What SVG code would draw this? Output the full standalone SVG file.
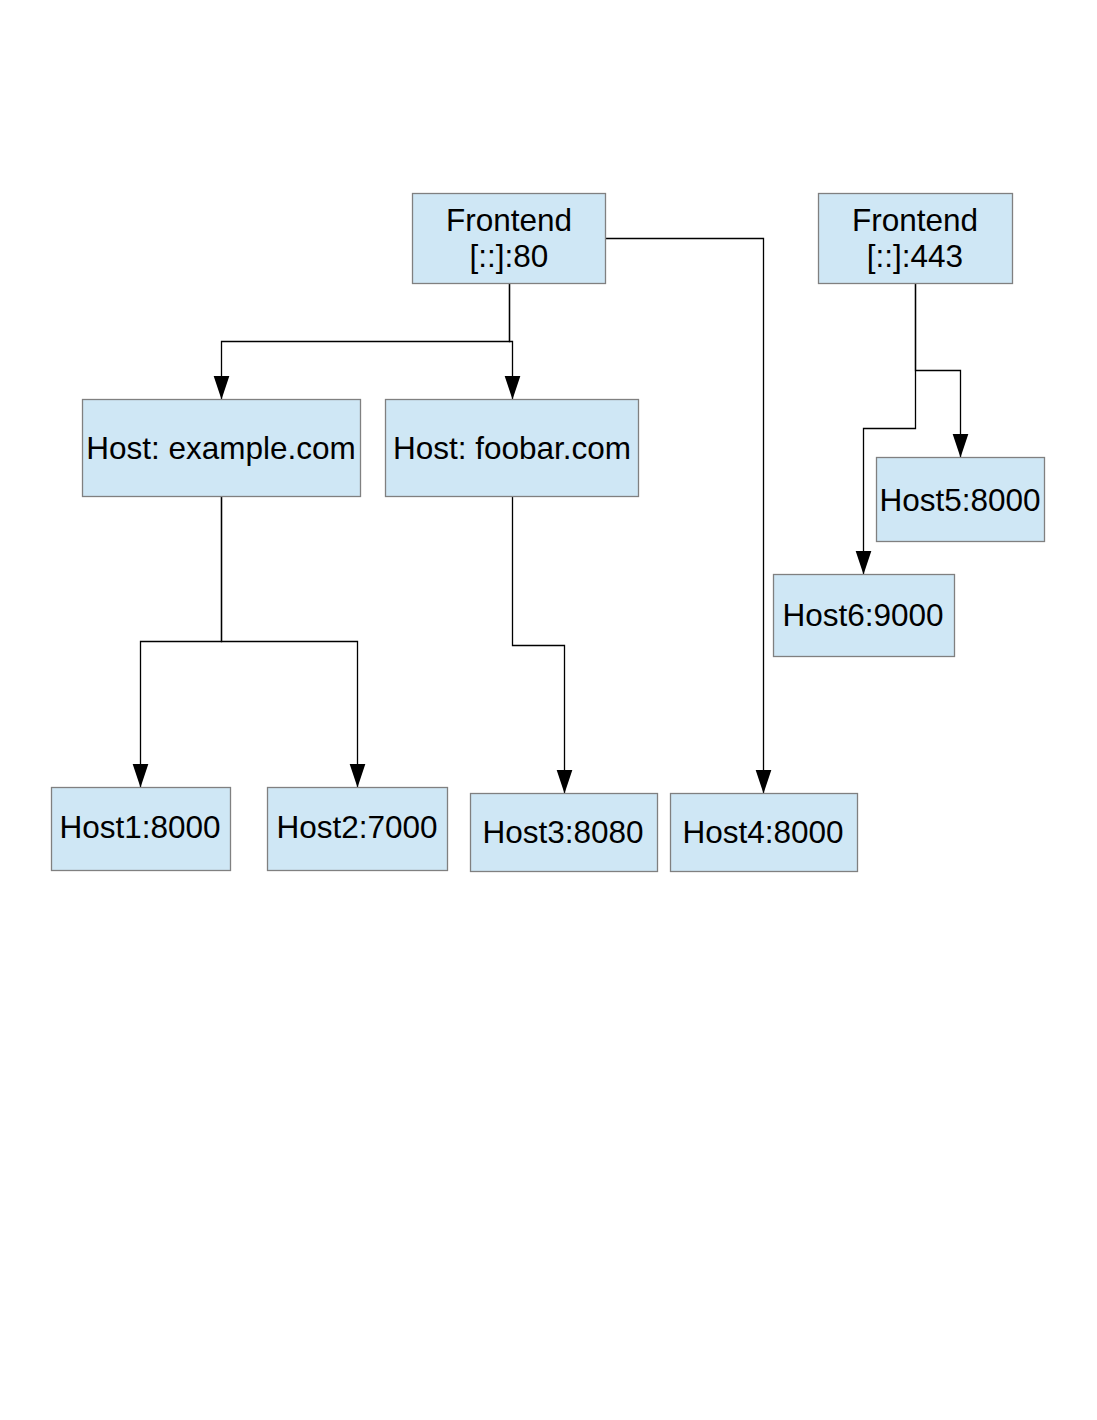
<svg xmlns="http://www.w3.org/2000/svg" width="1097" height="1420" viewBox="0 0 1097 1420">
<style>
.box{fill:#cfe7f5;stroke:#808080;stroke-width:1.3}
.t{font-family:"Liberation Sans",Arial,sans-serif;font-size:31.5px;fill:#000;text-anchor:middle}
.c{fill:none;stroke:#000;stroke-width:1.3}
</style>
<defs>
<marker id="a" markerUnits="userSpaceOnUse" markerWidth="24" markerHeight="18" viewBox="0 0 24 18" refX="24" refY="9" orient="auto">
<path d="M0,1 L24,9 L0,17 Z" fill="#000"/>
</marker>
</defs>
<rect width="1097" height="1420" fill="#fff"/>
<g id="connectors">
<path class="c" d="M509.5,283.5 V341.5 H221.5 V399.5" marker-end="url(#a)"/>
<path class="c" d="M509.5,283.5 V341.5 H512.5 V399.5" marker-end="url(#a)"/>
<path class="c" d="M605.5,238.5 H763.5 V793.5" marker-end="url(#a)"/>
<path class="c" d="M221.5,496.5 V641.5 H140.5 V787.5" marker-end="url(#a)"/>
<path class="c" d="M221.5,496.5 V641.5 H357.5 V787.5" marker-end="url(#a)"/>
<path class="c" d="M512.5,496.5 V645.5 H564.5 V793.5" marker-end="url(#a)"/>
<path class="c" d="M915.5,283.5 V370.5 H960.5 V457.5" marker-end="url(#a)"/>
<path class="c" d="M915.5,283.5 V428.5 H863.5 V574.5" marker-end="url(#a)"/>
</g>
<g id="frontend80">
<rect class="box" x="412.5" y="193.5" width="193" height="90"/>
<text class="t" x="509" y="231">Frontend</text>
<text class="t" x="509" y="267">[::]:80</text>
</g>
<g id="frontend443">
<rect class="box" x="818.5" y="193.5" width="194" height="90"/>
<text class="t" x="915" y="231">Frontend</text>
<text class="t" x="915" y="267">[::]:443</text>
</g>
<g id="host-example">
<rect class="box" x="82.5" y="399.5" width="278" height="97"/>
<text class="t" x="221" y="459">Host: example.com</text>
</g>
<g id="host-foobar">
<rect class="box" x="385.5" y="399.5" width="253" height="97"/>
<text class="t" x="512" y="459">Host: foobar.com</text>
</g>
<g id="host5">
<rect class="box" x="876.5" y="457.5" width="168" height="84"/>
<text class="t" x="960" y="511">Host5:8000</text>
</g>
<g id="host6">
<rect class="box" x="773.5" y="574.5" width="181" height="82"/>
<text class="t" x="863" y="626">Host6:9000</text>
</g>
<g id="host1">
<rect class="box" x="51.5" y="787.5" width="179" height="83"/>
<text class="t" x="140" y="838">Host1:8000</text>
</g>
<g id="host2">
<rect class="box" x="267.5" y="787.5" width="180" height="83"/>
<text class="t" x="357" y="838">Host2:7000</text>
</g>
<g id="host3">
<rect class="box" x="470.5" y="793.5" width="187" height="78"/>
<text class="t" x="563" y="843">Host3:8080</text>
</g>
<g id="host4">
<rect class="box" x="670.5" y="793.5" width="187" height="78"/>
<text class="t" x="763" y="843">Host4:8000</text>
</g>
</svg>
